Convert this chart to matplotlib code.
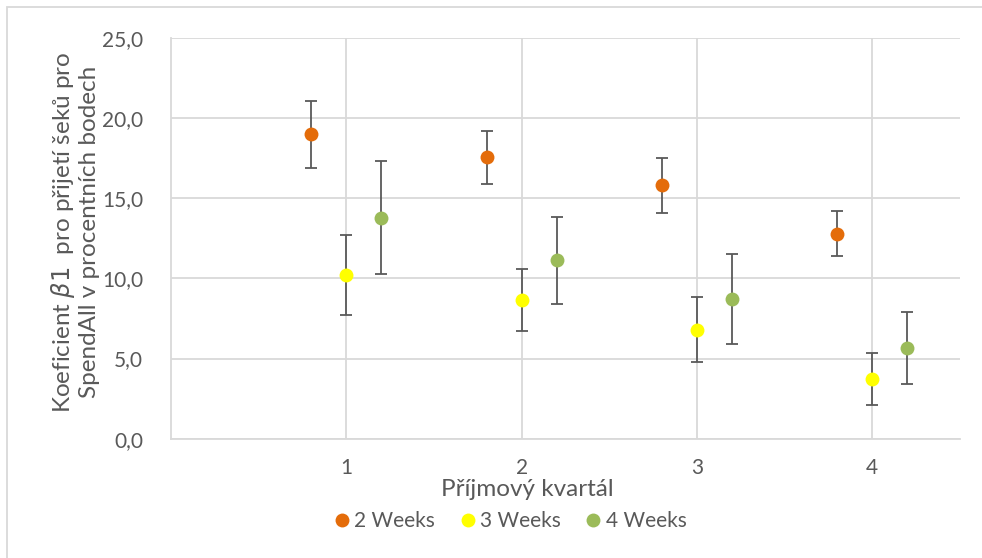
import matplotlib.pyplot as plt
from matplotlib.patches import Rectangle

quartiles = [1, 2, 3, 4]
series = ["2 Weeks", "3 Weeks", "4 Weeks"]
colors = ["#E46C0A", "#FFFF00", "#9BBB59"]
offsets = [-0.2, 0.0, 0.2]

# koeficienty a chyby pro jednotlivé kvartály
beta_2w = [19.0, 17.55, 15.8, 12.8]
err_2w = [2.1, 1.65, 1.72, 1.4]
beta_3w = [10.2, 8.65, 6.8, 3.7]
err_3w = [2.5, 1.95, 2.02, 1.62]
beta_4w = [13.8, 11.12, 8.72, 5.68]
err_4w = [3.5, 2.72, 2.82, 2.25]

values = [beta_2w, beta_3w, beta_4w]
errors = [err_2w, err_3w, err_4w]

plt.rcParams["font.family"] = ["Lato", "DejaVu Sans"]
plt.rcParams["mathtext.fontset"] = "dejavusans"
text_color = "#595959"
grid_color = "#D9D9D9"

fig = plt.figure(figsize=(9.82, 5.58), dpi=100)
ax = fig.add_axes([171 / 982, 1 - 438.7 / 558, 789 / 982, 400.7 / 558])

for name, color, off, y, e in zip(series, colors, offsets, values, errors):
    x = [q + off for q in quartiles]
    ax.errorbar(x, y, yerr=e, fmt="none", ecolor=text_color, elinewidth=1.3,
                capsize=4.5, capthick=1.3, zorder=3)
    ax.plot(x, y, "o", color=color, markersize=10, markeredgewidth=0,
            label=name, zorder=4)

ax.set_xlim(0, 4.5)
ax.set_ylim(0, 25)
ax.set_xticks(quartiles)
ax.set_xticklabels([str(q) for q in quartiles])
ax.set_yticks([0, 5, 10, 15, 20, 25])
ax.set_yticklabels(["0,0", "5,0", "10,0", "15,0", "20,0", "25,0"])
ax.grid(True, color=grid_color, linewidth=1.3, zorder=0)
ax.set_axisbelow(True)
for side in ["top", "right"]:
    ax.spines[side].set_visible(False)
for side in ["left", "bottom"]:
    ax.spines[side].set_color(grid_color)
    ax.spines[side].set_linewidth(1.3)
ax.tick_params(axis="both", length=0, labelsize=15, labelcolor=text_color)
ax.tick_params(axis="y", pad=20)
ax.tick_params(axis="x", pad=14)

ax.set_xlabel("Příjmový kvartál", fontsize=17.5, color=text_color)
ax.xaxis.set_label_coords(0.452, -0.1)
ax.set_ylabel("Koeficient $\\beta1$  pro přijetí šeků pro\nSpendAll v procentních bodech",
              fontsize=17.5, color=text_color, linespacing=1.12)
ax.yaxis.set_label_coords(-0.09, 0.516)

fig.legend(loc="center", bbox_to_anchor=(508 / 982, 1 - 521 / 558), ncol=3,
           frameon=False, fontsize=15, labelcolor=text_color, handletextpad=0.0,
           columnspacing=0.95, handlelength=1.2, markerscale=1.0)

# okraj oblasti grafu
fig.patches.append(Rectangle((7 / 982, -0.1), 1.2, 1 - 7 / 558 + 0.1,
                             transform=fig.transFigure, fill=False,
                             edgecolor=grid_color, linewidth=1.3))

fig.savefig("out.png", dpi=100)
